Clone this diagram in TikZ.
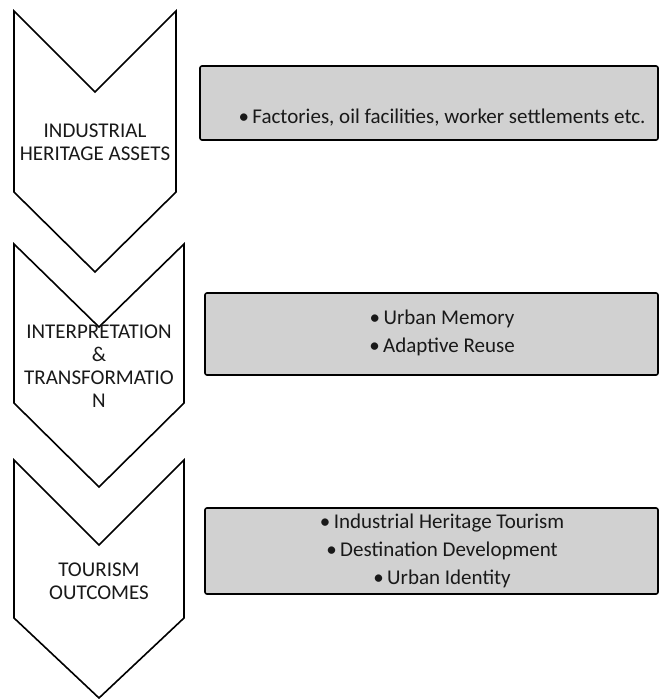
\documentclass[tikz,border=0pt]{standalone}
\usepackage{fontspec}
\setmainfont{Carlito}
\usepackage{tikz}

\begin{document}
\begin{tikzpicture}[x=1pt, y=-1pt,
		chevron_style/.style={draw=black, line width=1.6pt, fill=white},
		box_style/.style={draw=black, line width=1.6pt, fill=black!18, rounded corners=2pt, inner sep=0pt},
		label_style/.style={align=center, font=\fontsize{21}{22.8}\selectfont, text=black!90},
		item_style/.style={align=center, font=\fontsize{21}{28}\selectfont, text=black!90}]
		
		\useasboundingbox (0,0) rectangle (659,699);
		
		% chevrons
		\draw[chevron_style] (14,11) -- (95,92) -- (176,11) -- (176,192) -- (95,272) -- (14,192) -- cycle;
		\draw[chevron_style] (14,244) -- (99,327) -- (184,244) -- (184,403) -- (99,487) -- (14,403) -- cycle;
		\draw[chevron_style] (14,460) -- (99,545) -- (184,460) -- (184,618) -- (99,698) -- (14,618) -- cycle;
		
		\node[label_style] (c1) at (95,142)  {INDUSTRIAL\\HERITAGE ASSETS};
		\node[label_style] (c2) at (99,366)  {INTERPRETATION\\\&\\TRANSFORMATIO\\N};
		\node[label_style] (c3) at (99,581)  {TOURISM\\OUTCOMES};
		
		% boxes
		\node[box_style, minimum width=458, minimum height=74] (b1) at (429,103)  {};
		\node[box_style, minimum width=453, minimum height=82] (b2) at (431.5,334)  {};
		\node[box_style, minimum width=453, minimum height=86] (b3) at (431.5,551)  {};
		
		\node[item_style] (t1) at (442,118)  {•\,Factories, oil facilities, worker settlements etc.};
		\node[item_style] (t2) at (442,333)  {•\,Urban Memory\\•\,Adaptive Reuse};
		\node[item_style] (t3) at (442,551)  {•\,Industrial Heritage Tourism\\•\,Destination Development\\•\,Urban Identity};
		
		\end{tikzpicture}
\end{document}
